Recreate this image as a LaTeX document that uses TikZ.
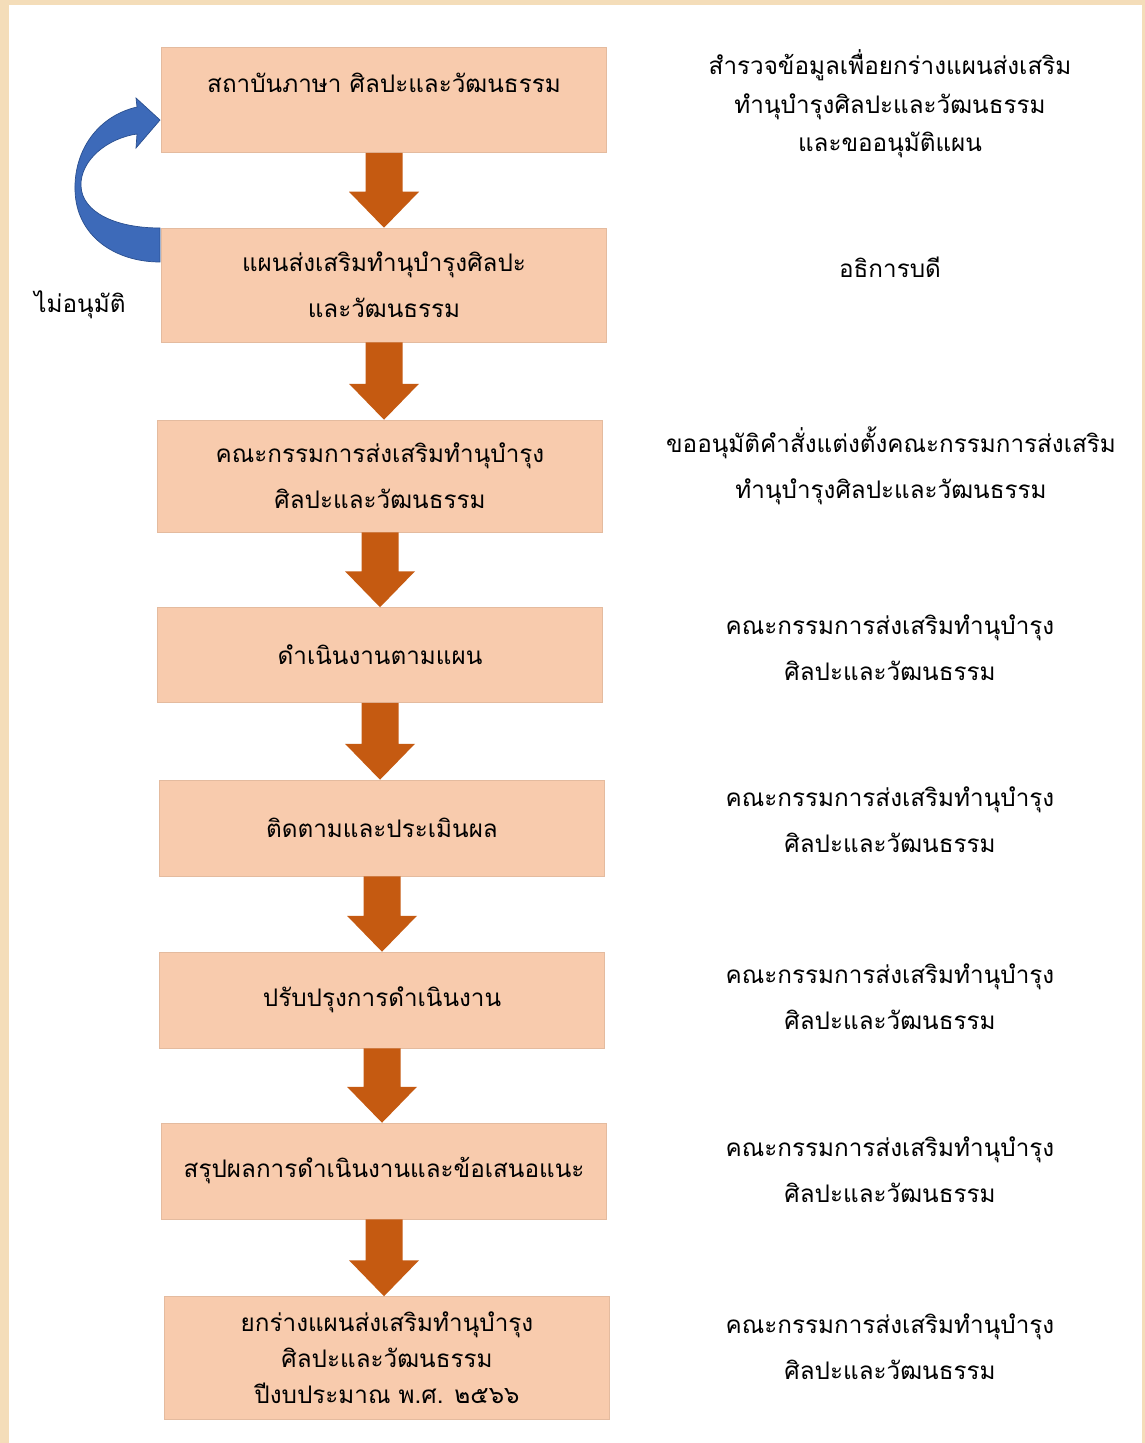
\documentclass[tikz,border=0pt]{standalone}
\usepackage{fontspec}
\newfontfamily\thaifont[Script=Thai]{Loma}
\usetikzlibrary{positioning,calc}

\definecolor{peach}{HTML}{F8CBAD}
\definecolor{burnt}{HTML}{C55A11}
\definecolor{loopblue}{HTML}{3D6AB9}
\definecolor{loopedge}{HTML}{2A4F8F}
\definecolor{frame}{HTML}{F4DDB9}

\tikzset{
    stepbox/.style={fill=peach, draw=peach!92!black, line width=0.3pt, minimum width=8.9cm, inner sep=0pt, align=center},
    blockarrow/.style={fill=burnt}
}

\begin{document}
\begin{tikzpicture}[x=0.02cm, y=-0.02cm, font={\thaifont\fontsize{13.8pt}{26pt}\selectfont}]
    \useasboundingbox (0,0) rectangle (1145,1443);
    \fill[frame] (0,0) rectangle (1145,1443);
    \fill[white] (9,5) rectangle (1142,1443);

    \begin{scope}[every node/.style={stepbox}]
        \node[minimum height=2.1cm, text depth=0.7cm] (b1) at (384,100) {สถาบันภาษา ศิลปะและวัฒนธรรม};
        \node[minimum height=2.28cm] (b2) at (384,285) {แผนส่งเสริมทำนุบำรุงศิลปะ\\และวัฒนธรรม};
        \node[minimum height=2.24cm] (b3) at (380,476) {คณะกรรมการส่งเสริมทำนุบำรุง\\ศิลปะและวัฒนธรรม};
        \node[minimum height=1.9cm] (b4) at (380,655) {ดำเนินงานตามแผน};
        \node[minimum height=1.92cm] (b5) at (382,828) {ติดตามและประเมินผล};
        \node[minimum height=1.92cm] (b6) at (382,1000) {ปรับปรุงการดำเนินงาน};
        \node[minimum height=1.92cm] (b7) at (384,1171) {สรุปผลการดำเนินงานและข้อเสนอแนะ};
        \node[minimum height=2.46cm, font={\thaifont\fontsize{13.8pt}{20.5pt}\selectfont}] (b8) at (387,1358) {ยกร่างแผนส่งเสริมทำนุบำรุง\\ศิลปะและวัฒนธรรม\\ปีงบประมาณ พ.ศ. ๒๕๖๖};
    \end{scope}

    % down arrows between the steps
    \foreach \a/\b in {b1/b2, b2/b3, b3/b4, b4/b5, b5/b6, b6/b7, b7/b8}
        \fill [blockarrow] ($(\a.south)+(-18.5,0)$) -- ($(\a.south)+(18.5,0)$)
            -- ($(\a.south |- \b.north)+(18.5,-36)$) -- ($(\a.south |- \b.north)+(35,-36)$)
            -- (\a.south |- \b.north)
            -- ($(\a.south |- \b.north)+(-35,-36)$) -- ($(\a.south |- \b.north)+(-18.5,-36)$) -- cycle;

    \begin{scope}[every node/.style={align=center}]
        \node[font={\thaifont\fontsize{13.8pt}{22pt}\selectfont}] (r1) at (890,104) {สำรวจข้อมูลเพื่อยกร่างแผนส่งเสริม\\ทำนุบำรุงศิลปะและวัฒนธรรม\\และขออนุมัติแผน};
        \node (r2) at (890,267) {อธิการบดี};
        \node (r3) at (891,466) {ขออนุมัติคำสั่งแต่งตั้งคณะกรรมการส่งเสริม\\ทำนุบำรุงศิลปะและวัฒนธรรม};
        \node (r4) at (890,648) {คณะกรรมการส่งเสริมทำนุบำรุง\\ศิลปะและวัฒนธรรม};
        \node (r5) at (890,820) {คณะกรรมการส่งเสริมทำนุบำรุง\\ศิลปะและวัฒนธรรม};
        \node (r6) at (890,997) {คณะกรรมการส่งเสริมทำนุบำรุง\\ศิลปะและวัฒนธรรม};
        \node (r7) at (890,1170) {คณะกรรมการส่งเสริมทำนุบำรุง\\ศิลปะและวัฒนธรรม};
        \node (r8) at (890,1347) {คณะกรรมการส่งเสริมทำนุบำรุง\\ศิลปะและวัฒนธรรม};
        \node (no) at (80,305) {ไม่อนุมัติ};
    \end{scope}

    % loop back when not approved
    \filldraw[fill=loopblue, draw=loopedge, line width=0.4pt]
        (160,228) .. controls (115,228) and (82,212) .. (81,186)
        .. controls (80,160) and (108,138) .. (137,134)
        -- (136,148) -- (160,120) -- (136,98) -- (137,107)
        .. controls (98,116) and (74,150) .. (75,190)
        .. controls (76,236) and (115,262) .. (160,262) -- cycle;
\end{tikzpicture}
\end{document}
